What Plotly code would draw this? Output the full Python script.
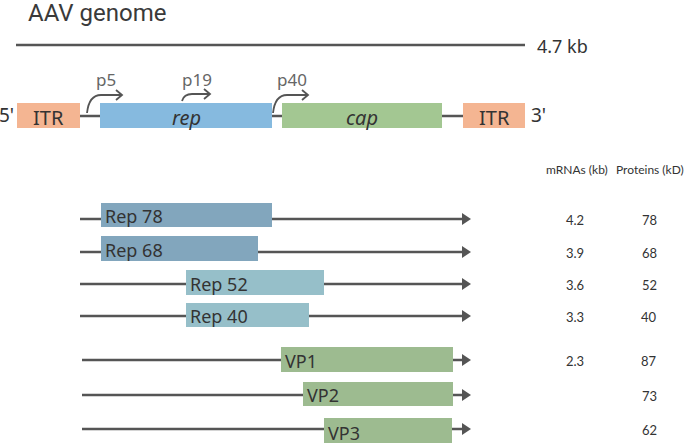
import plotly.graph_objects as go

# ---- data ----
title_text = "AAV genome"
genome_size = "4.7 kb"
genome_elements = ["ITR", "rep", "cap", "ITR"]
element_start = [17, 100, 282, 463]
element_end = [80, 272, 442, 525]
element_colors = ["#F4B592", "#86BADF", "#A3C792", "#F4B592"]

promoters = ["p5", "p19", "p40"]
promoter_pos = [87, 182, 273]

transcripts = ["Rep 78", "Rep 68", "Rep 52", "Rep 40", "VP1", "VP2", "VP3"]
orf_start = [101, 101, 186, 186, 281, 303, 324]
orf_end = [272, 258, 324, 309, 453, 453, 452]
tx_start = [80, 80, 80, 80, 82, 82, 82]
tx_end = [466, 466, 466, 466, 466, 466, 466]
mrna_kb = ["4.2", "3.9", "3.6", "3.3", "2.3", "", ""]
protein_kd = ["78", "68", "52", "40", "87", "73", "62"]
tx_colors = ["#82A6BD", "#82A6BD", "#96BFC9", "#96BFC9", "#9DBB90", "#9DBB90", "#9DBB90"]
row_y = [219, 252, 284, 316, 360, 395, 429]
box_top = [203, 236, 270, 303, 347, 382, 418]
box_bot = [227, 261, 295, 327, 372, 406, 446]

LINE = "#555555"
TXT = "#333333"
FONT = "Noto Sans"

fig = go.Figure()
shapes = []
ann = []

# title and genome length bar
ann.append(dict(x=27, y=13, text=title_text, showarrow=False, xanchor="left", borderpad=0,
                font=dict(family="Roboto", size=24, color="#3a3a3a")))
shapes.append(dict(type="line", x0=16, x1=525, y0=45, y1=45, line=dict(color=LINE, width=2.5)))
ann.append(dict(x=535, y=46, text=genome_size, showarrow=False, xanchor="left",
                font=dict(family=FONT, size=18, color=TXT)))

# genome map
gy = 116
shapes.append(dict(type="line", x0=element_end[0], x1=element_start[3], y0=gy, y1=gy,
                   line=dict(color=LINE, width=2.5), layer="below"))
for name, s, e, c in zip(genome_elements, element_start, element_end, element_colors):
    shapes.append(dict(type="rect", x0=s, x1=e, y0=103, y1=128, fillcolor=c,
                       line=dict(width=0)))
    txt = f"<i>{name}</i>" if name in ("rep", "cap") else name
    ann.append(dict(x=(s + e) / 2, y=gy + 1, text=txt, showarrow=False,
                    font=dict(family=FONT, size=20, color=TXT)))
ann.append(dict(x=6, y=gy - 1, text="5'", showarrow=False,
                font=dict(family=FONT, size=19, color=TXT)))
ann.append(dict(x=538, y=gy - 1, text="3'", showarrow=False,
                font=dict(family=FONT, size=19, color=TXT)))

# promoters (bent arrows)
for name, p in zip(promoters, promoter_pos):
    if name == "p19":
        y0, ytop, length, rise = 101, 94, 28, 8
    else:
        y0, ytop, length, rise = 113, 95, 35, 12
    xe = p + length
    shapes.append(dict(type="path",
                       path=f"M {p},{y0} Q {p+2},{ytop} {p+rise+2},{ytop} L {xe},{ytop}",
                       line=dict(color=LINE, width=1.8)))
    shapes.append(dict(type="path",
                       path=f"M {xe-6},{ytop-5} L {xe},{ytop} L {xe-6},{ytop+5}",
                       line=dict(color=LINE, width=1.8)))
    ann.append(dict(x=p + length / 2 + 1, y=79, text=name, showarrow=False,
                    font=dict(family=FONT, size=17, color="#666666")))

# table headers
ann.append(dict(x=577, y=169, text="mRNAs (kb)", showarrow=False,
                font=dict(family="Lato", size=12, color=TXT)))
ann.append(dict(x=684, y=169, text="Proteins (kD)", showarrow=False, xanchor="right",
                xshift=2, font=dict(family="Lato", size=12, color=TXT)))

# transcripts
for i, name in enumerate(transcripts):
    y = row_y[i]
    shapes.append(dict(type="line", x0=tx_start[i], x1=tx_end[i], y0=y, y1=y,
                       line=dict(color=LINE, width=2.5), layer="below"))
    shapes.append(dict(type="path",
                       path=f"M {tx_end[i]-4},{y-6} L {tx_end[i]+5},{y} L {tx_end[i]-4},{y+6} Z",
                       fillcolor=LINE, line=dict(width=0)))
    shapes.append(dict(type="rect", x0=orf_start[i], x1=orf_end[i], y0=box_top[i], y1=box_bot[i],
                       fillcolor=tx_colors[i], line=dict(width=0)))
    ann.append(dict(x=orf_start[i] + 2, y=(box_top[i] + box_bot[i]) / 2 + 1, text=name,
                    showarrow=False, xanchor="left",
                    font=dict(family=FONT, size=18, color=TXT)))
    if mrna_kb[i]:
        ann.append(dict(x=575, y=y + 1, text=mrna_kb[i], showarrow=False,
                        font=dict(family="Lato", size=13, color=TXT)))
    ann.append(dict(x=649, y=y + 1, text=protein_kd[i], showarrow=False,
                    font=dict(family="Lato", size=13, color=TXT)))

fig.update_layout(
    width=685, height=443,
    margin=dict(l=0, r=0, t=0, b=0),
    paper_bgcolor="white", plot_bgcolor="white",
    xaxis=dict(range=[0, 685], visible=False, fixedrange=True),
    yaxis=dict(range=[443, 0], visible=False, fixedrange=True),
    shapes=shapes, annotations=ann, showlegend=False,
)
fig.write_html("out.html", config={"displayModeBar": False},
               post_script="document.body.style.margin='0';document.body.style.overflow='hidden';")
